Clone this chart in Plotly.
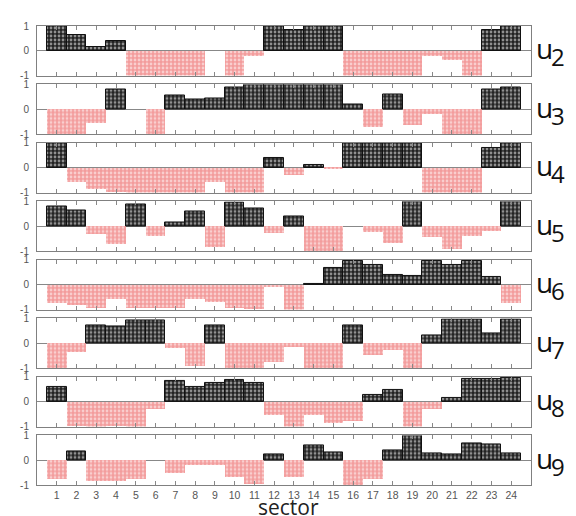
import plotly.graph_objects as go
from plotly.subplots import make_subplots

sectors = list(range(1, 25))
names = ["2", "3", "4", "5", "6", "7", "8", "9"]

u2 = [1.0, 0.62, 0.15, 0.41, -1.0, -1.0, -1.0, -1.0, 0.0, -1.0, -0.2, 1.0,
      0.82, 1.0, 1.0, -1.0, -1.0, -1.0, -1.0, -0.2, -0.37, -1.0, 0.82, 1.0]
u3 = [-1.0, -1.0, -0.57, 0.78, 0.0, -1.0, 0.54, 0.38, 0.45, 0.86, 1.0, 1.0,
      1.0, 1.0, 1.0, 0.2, -0.74, 0.58, -0.66, -0.2, -1.0, -1.0, 0.78, 0.86]
u4 = [1.0, -0.57, -0.87, -0.97, -1.0, -1.0, -1.0, -1.0, -0.57, -1.0, -1.0, 0.4,
      -0.3, 0.13, -0.03, 1.0, 1.0, 1.0, 1.0, -1.0, -1.0, -1.0, 0.8, 1.0]
u5 = [0.81, 0.64, -0.33, -0.72, 0.87, -0.43, 0.15, 0.6, -0.85, 0.97, 0.73, -0.3,
      0.39, -1.0, -1.0, 0.0, -0.27, -0.69, 1.0, -0.45, -0.92, -0.43, -0.23, 1.0]
u6 = [-0.73, -0.8, -0.92, -0.56, -0.95, -0.95, -0.95, -0.56, -0.7, -0.92, -0.96, -0.1,
      -1.0, 0.03, 0.68, 0.97, 0.81, 0.41, 0.37, 0.97, 0.81, 0.95, 0.31, -0.73]
u7 = [-1.0, -0.36, 0.71, 0.67, 0.93, 0.93, -0.23, -0.92, 0.73, -1.0, -1.0, -0.76,
      -0.15, -1.0, -1.0, 0.73, -0.49, -0.29, -1.0, 0.31, 0.97, 0.97, 0.4, 0.97]
u8 = [0.6, -0.96, -1.0, -0.96, -1.0, -0.29, 0.84, 0.61, 0.75, 0.87, 0.77, -0.53,
      -1.0, -0.53, -0.87, -0.79, 0.28, 0.48, -1.0, -0.29, 0.17, 0.93, 0.93, 0.95]
u9 = [-0.76, 0.35, -0.86, -0.86, -0.79, 0.0, -0.53, -0.21, -0.21, -0.69, -0.97, 0.24,
      -0.69, 0.6, 0.31, -1.0, -0.76, 0.38, 1.0, 0.28, 0.25, 0.67, 0.63, 0.28]

series = [u2, u3, u4, u5, u6, u7, u8, u9]

W, H = 576, 516
ML, MR, MT, MB = 29, 53, 14, 39
PH = H - MT - MB
panel_h = 50.0
step = (PH - panel_h) / 7.0

fig = make_subplots(rows=8, cols=1)

for i, vals in enumerate(series):
    pos = [v if v > 0 else None for v in vals]
    neg = [v if v < 0 else None for v in vals]
    fig.add_trace(go.Bar(
        x=sectors, y=neg, width=1.0,
        marker=dict(color="#f29a9a", line=dict(width=0),
                    pattern=dict(shape=".", fgcolor="white", bgcolor="#f39c9c",
                                 size=4, solidity=0.38)),
        showlegend=False), row=i + 1, col=1)
    fig.add_trace(go.Bar(
        x=sectors, y=pos, width=1.0,
        marker=dict(color="#222222", line=dict(width=1, color="#111"),
                    pattern=dict(shape=".", fgcolor="white", bgcolor="#222222",
                                 size=4, solidity=0.38)),
        showlegend=False), row=i + 1, col=1)

annotations = []
for i in range(8):
    top_px = MT + step * i
    bot_px = top_px + panel_h
    d1 = min(1.0, max(0.0, 1 - (top_px - MT) / PH))
    d0 = min(1.0, max(0.0, 1 - (bot_px - MT) / PH))
    yname = "yaxis" if i == 0 else f"yaxis{i + 1}"
    xname = "xaxis" if i == 0 else f"xaxis{i + 1}"
    fig.layout[yname].update(
        domain=[d0, d1], range=[-1, 1], tickvals=[-1, 0, 1],
        ticktext=["-1", "0", "1"], ticks="inside", ticklen=3,
        tickcolor="#888", showline=True, linecolor="#808080", linewidth=1,
        mirror="ticks", zeroline=True, zerolinecolor="#888", zerolinewidth=1,
        showgrid=False, tickfont=dict(family="Liberation Sans", size=10, color="#555"),
        ticklabelstandoff=5)
    fig.layout[xname].update(
        range=[0, 25], tickvals=sectors, ticks="inside", ticklen=4,
        tickcolor="#888", showline=True, linecolor="#808080", linewidth=1,
        mirror="ticks", showgrid=False, zeroline=False,
        showticklabels=(i == 7), ticklabelstandoff=0,
        tickfont=dict(family="Liberation Sans", size=10.5, color="#555"))
    cy = 1 - ((top_px + bot_px) / 2 - MT) / PH
    annotations.append(dict(
        text="u", xref="paper", yref="paper", x=(526 - ML) / (W - ML - MR),
        y=cy + 2.5 / PH, xanchor="left", yanchor="middle", showarrow=False,
        font=dict(family="Open Sans", size=28, color="#111")))
    annotations.append(dict(
        text=names[i], xref="paper", yref="paper", x=(541 - ML) / (W - ML - MR),
        y=cy - 6 / PH, xanchor="left", yanchor="middle", showarrow=False,
        font=dict(family="Open Sans", size=24, color="#111")))

annotations.append(dict(
    text="sector", xref="paper", yref="paper", x=(280 - ML) / (W - ML - MR),
    y=1 - (499 - MT) / PH, xanchor="center", yanchor="middle", showarrow=False,
    font=dict(family="Open Sans", size=21, color="#222")))

fig.update_layout(
    width=W, height=H, margin=dict(l=ML, r=MR, t=MT, b=MB),
    paper_bgcolor="white", plot_bgcolor="white",
    barmode="overlay", bargap=0, annotations=annotations)

fig.write_html("out.html")
